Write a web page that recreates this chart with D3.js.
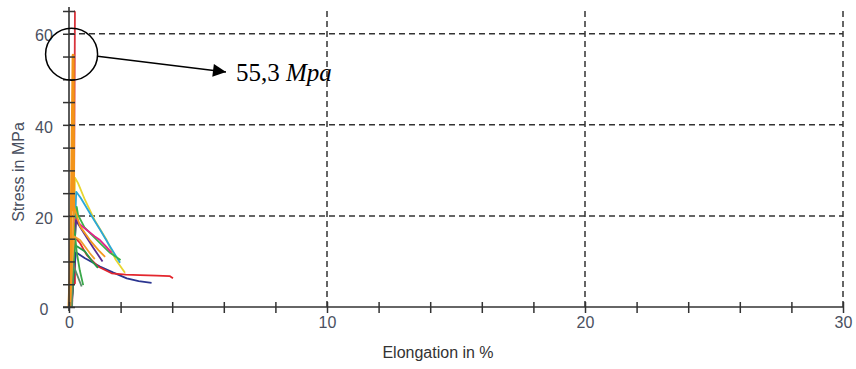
<!DOCTYPE html>
<html>
<head>
<meta charset="utf-8">
<script src="https://cdn.jsdelivr.net/npm/d3@7"></script>
<style>
  body { margin: 0; background: #fff; }
  svg { display: block; }
</style>
</head>
<body>
<svg id="chart" width="856" height="369"></svg>
<script>
// tick values / labels
const xTicks = d3.range(0, 31, 2);
const xLabels = [0, 10, 20, 30];
const yTicks = d3.range(0, 66, 5);
const yLabels = [0, 20, 40, 60];
const xGrid = [10, 20, 30];
const yGrid = [20, 40, 60];

// specimens: [elongation %, stress MPa]
const redTall = [[0.12,0],[0.18,12],[0.21,40],[0.23,64.8],[0.19,65]];
const navySmall = [[0.0,2.0],[0.06,1.8],[0.14,1.2]];
const redStep = [[0.05,5.2],[0.23,5.2],[0.23,11]];
const yellow = [[0.1,0],[0.18,14],[0.23,28.4],[0.35,27.2],[0.62,23.5],[1.0,19],[1.46,14.7],[1.8,10.5],[2.17,7.5]];
const cyan = [[0.1,0],[0.2,13],[0.28,25.3],[0.45,24],[0.81,20.6],[1.2,17],[1.59,13.3],[1.98,9.7]];
const green = [[0.1,0],[0.2,12],[0.3,22],[0.35,20.2],[0.6,17.5],[0.94,15.5],[1.3,13.5],[1.59,11.9],[2.0,10.3]];
const magenta = [[0.08,0],[0.18,10],[0.25,19.3],[0.45,18],[0.69,16.9],[1.0,15.5],[1.2,14.7],[1.45,13.2],[1.65,11.9]];
const purple = [[0.1,0],[0.2,12],[0.27,19],[0.6,16],[0.94,13],[1.3,10]];
const navy = [[0.1,0],[0.2,8],[0.27,12],[0.62,10.7],[1.2,8.9],[1.7,7.6],[2.24,6.3],[2.7,5.7],[3.2,5.3]];
const redTail = [[0.1,0],[0.16,8],[0.2,15.5],[0.43,14],[0.69,11.4],[1.12,8.9],[1.65,7.4],[2.2,7.1],[2.75,7.0],[3.4,6.9],[3.9,6.8],[4.03,6.3]];
const darkGreen = [[0.08,0],[0.15,7],[0.23,13.6],[0.62,12.2],[0.9,10],[1.12,8.6]];
const greenShort = [[0.1,0],[0.18,8],[0.19,18.4],[0.3,12],[0.42,8],[0.55,4.8]];
const tealShort = [[0.12,0],[0.1,10.3],[0.25,8],[0.49,4.5]];
const orangeA = [[0.05,0],[0.12,10],[0.2,22],[0.43,17.7],[0.81,14.7],[1.14,12.5],[1.4,11]];
const orangeB = [[0.03,0],[0.1,8],[0.2,15.5],[0.43,14.7],[0.81,11.8],[1.0,10.5]];
const orangeTall = [[0,0],[0.05,8],[0.1,25],[0.14,45],[0.16,55.3],[0.17,40],[0.18,21]];

const specimens = [redTall, navySmall, redStep, yellow, cyan, green, magenta, purple,
  navy, redTail, darkGreen, greenShort, tealShort, orangeA, orangeB, orangeTall];
const colors = ["#d9343c", "#2e3192", "#e0262b", "#e8d630", "#2aa7d8", "#38b449", "#e2238a", "#5b2d8e",
  "#2b3590", "#e3262d", "#1f9a48", "#3aa84a", "#5a8a6a", "#f39a1e", "#f0a030", "#f39419"];

const svg = d3.select("#chart");
const x = d3.scaleLinear().domain([0, 30]).range([69, 843]);
const y = d3.scaleLinear().domain([0, 65]).range([307, 11]);
const axisColor = "#333";
const labelColor = "#4a5060";

// grid
svg.append("g").selectAll("line").data(yGrid).join("line")
  .attr("x1", x(0)).attr("x2", x(30))
  .attr("y1", d => y(d)).attr("y2", d => y(d))
  .attr("stroke", axisColor).attr("stroke-width", 1.5).attr("stroke-dasharray", "6,4");
svg.append("g").selectAll("line").data(xGrid).join("line")
  .attr("x1", d => x(d)).attr("x2", d => x(d))
  .attr("y1", y(0)).attr("y2", y(65))
  .attr("stroke", axisColor).attr("stroke-width", 1.5).attr("stroke-dasharray", "6,4");

// curves
const line = d3.line().x(d => x(d[0])).y(d => y(d[1]));
svg.append("g").selectAll("path").data(specimens).join("path")
  .attr("d", line)
  .attr("fill", "none")
  .attr("stroke", (d, i) => colors[i])
  .attr("stroke-width", (d, i) => d === orangeTall ? 3 : 1.8)
  .attr("stroke-linejoin", "round");

// axes
const xAxis = svg.append("g").attr("transform", `translate(0,${y(0)})`)
  .call(d3.axisBottom(x).tickValues(xTicks).tickSize(6)
    .tickFormat(d => xLabels.includes(d) ? d : ""));
xAxis.select(".domain").remove();
xAxis.selectAll(".tick line").attr("y1", -5).attr("y2", 6).attr("stroke", axisColor).attr("stroke-width", 1.5);
xAxis.selectAll(".tick text").attr("y", 19).attr("dy", "0.71em")
  .attr("font-family", "Liberation Sans, Arial, sans-serif").attr("font-size", 16).attr("fill", labelColor)
  .attr("transform", "translate(0,-9)");

const yAxis = svg.append("g").attr("transform", `translate(${x(0)},0)`)
  .call(d3.axisLeft(y).tickValues(yTicks).tickSize(6)
    .tickFormat(d => yLabels.includes(d) ? d : ""));
yAxis.select(".domain").remove();
yAxis.selectAll(".tick line").attr("x1", -6).attr("x2", 6).attr("stroke", axisColor).attr("stroke-width", 1.5);
yAxis.selectAll(".tick text").attr("x", -25).attr("text-anchor", "middle").attr("dy", "0.45em")
  .attr("font-family", "Liberation Sans, Arial, sans-serif").attr("font-size", 16).attr("fill", labelColor);

svg.append("line").attr("x1", x(0) - 6).attr("x2", x(30)).attr("y1", y(0)).attr("y2", y(0))
  .attr("stroke", axisColor).attr("stroke-width", 1.6);
svg.append("line").attr("x1", x(0)).attr("x2", x(0)).attr("y1", y(65) - 4).attr("y2", y(0) + 4)
  .attr("stroke", axisColor).attr("stroke-width", 1.6);

// axis titles
svg.append("text").attr("x", 438).attr("y", 358).attr("text-anchor", "middle")
  .attr("font-family", "Liberation Sans, Arial, sans-serif").attr("font-size", 16).attr("fill", "#333")
  .text("Elongation in %");
svg.append("text").attr("transform", "translate(24,172) rotate(-90)").attr("text-anchor", "middle")
  .attr("font-family", "Liberation Sans, Arial, sans-serif").attr("font-size", 16).attr("fill", labelColor)
  .text("Stress in MPa");

// annotation
const peak = 55.3;
svg.append("defs").append("marker").attr("id", "arrow")
  .attr("viewBox", "0 0 10 10").attr("refX", 10).attr("refY", 5)
  .attr("markerWidth", 15).attr("markerHeight", 13).attr("markerUnits", "userSpaceOnUse")
  .attr("orient", "auto")
  .append("path").attr("d", "M0,0L10,5L0,10Z").attr("fill", "#000");
svg.append("circle").attr("cx", x(0.1)).attr("cy", y(peak) - 1).attr("r", 26)
  .attr("fill", "none").attr("stroke", "#000").attr("stroke-width", 1.5);
svg.append("line").attr("x1", x(0.1) + 26).attr("y1", y(peak) + 1).attr("x2", 226).attr("y2", 72)
  .attr("stroke", "#000").attr("stroke-width", 1.5).attr("marker-end", "url(#arrow)");
const ann = svg.append("text").attr("x", 236).attr("y", 81)
  .attr("font-family", "Liberation Serif, Times New Roman, serif").attr("font-size", 25).attr("fill", "#000");
ann.append("tspan").text("55,3 ");
ann.append("tspan").attr("font-style", "italic").text("Mpa");
</script>
</body>
</html>
